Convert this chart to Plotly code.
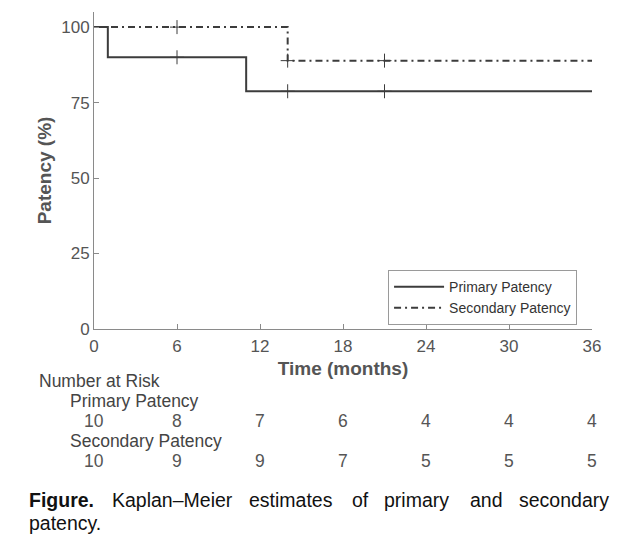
import plotly.graph_objects as go

# Kaplan-Meier step data
primary_t = [0, 1, 11, 36]
primary_s = [100, 90, 78.75, 78.75]
secondary_t = [0, 14, 36]
secondary_s = [100, 88.89, 88.89]

# censor marks
primary_cens_t = [6, 14, 21]
primary_cens_s = [90, 78.75, 78.75]
secondary_cens_t = [6, 14, 21]
secondary_cens_s = [100, 88.89, 88.89]

x_ticks = [0, 6, 12, 18, 24, 30, 36]
y_ticks = [0, 25, 50, 75, 100]
risk_primary = [10, 8, 7, 6, 4, 4, 4]
risk_secondary = [10, 9, 9, 7, 5, 5, 5]

LINE = "#3c3c3c"
AX = "#8a8a8a"
TXT = "#555555"
FONT = "Liberation Sans, Arial, sans-serif"

fig = go.Figure()
fig.add_trace(go.Scatter(x=primary_t, y=primary_s, mode="lines", line_shape="hv",
                         line=dict(color=LINE, width=2), name="Primary Patency"))
fig.add_trace(go.Scatter(x=secondary_t, y=secondary_s, mode="lines", line_shape="hv",
                         line=dict(color=LINE, width=2, dash="7px,4px,2px,4px"),
                         name="Secondary Patency"))
fig.add_trace(go.Scatter(x=primary_cens_t, y=primary_cens_s, mode="markers",
                         marker=dict(symbol="cross-thin", size=10, line=dict(color=LINE, width=1)),
                         showlegend=False))
fig.add_trace(go.Scatter(x=secondary_cens_t, y=secondary_cens_s, mode="markers",
                         marker=dict(symbol="cross-thin", size=10, line=dict(color=LINE, width=1)),
                         showlegend=False))

RISK_FS = 17.5
ann = []
ann.append(dict(text="Number at Risk", xref="paper", yref="paper", x=-0.1145, y=-0.164,
                xanchor="left", yanchor="middle", showarrow=False,
                font=dict(size=RISK_FS, color="#444444", family=FONT)))
ann.append(dict(text="Primary Patency", xref="paper", yref="paper", x=-0.052, y=-0.227,
                xanchor="left", yanchor="middle", showarrow=False,
                font=dict(size=RISK_FS, color="#444444", family=FONT)))
ann.append(dict(text="Secondary Patency", xref="paper", yref="paper", x=-0.052, y=-0.353,
                xanchor="left", yanchor="middle", showarrow=False,
                font=dict(size=RISK_FS, color="#444444", family=FONT)))
for t, n in zip(x_ticks, risk_primary):
    ann.append(dict(text=str(n), xref="x", yref="paper", x=t, y=-0.290, xanchor="center",
                    yanchor="middle", showarrow=False, font=dict(size=RISK_FS, color=TXT, family=FONT)))
for t, n in zip(x_ticks, risk_secondary):
    ann.append(dict(text=str(n), xref="x", yref="paper", x=t, y=-0.416, xanchor="center",
                    yanchor="middle", showarrow=False, font=dict(size=RISK_FS, color=TXT, family=FONT)))

# caption (justified first line)
CAP_FS = 19.5
words = ["<b>Figure.</b>", "Kaplan–Meier", "estimates", "of", "primary", "and", "secondary"]
word_px = [27, 110, 247, 350, 382, 468, 517]
for w, px in zip(words, word_px):
    ann.append(dict(text=w, xref="paper", yref="paper", x=(px - 94) / 498, y=-0.539,
                    xanchor="left", yanchor="middle", showarrow=False,
                    font=dict(size=CAP_FS, color="#111111", family=FONT)))
ann.append(dict(text="patency.", xref="paper", yref="paper", x=(27 - 94) / 498, y=-0.612,
                xanchor="left", yanchor="middle", showarrow=False,
                font=dict(size=CAP_FS, color="#111111", family=FONT)))

fig.update_layout(
    width=632, height=544,
    margin=dict(l=86, r=48, t=4, b=223),
    paper_bgcolor="white", plot_bgcolor="white",
    font=dict(family=FONT, color=TXT),
    showlegend=True,
    legend=dict(x=0.97, y=0.186, xanchor="right", yanchor="top",
                bgcolor="white", bordercolor="#9a9a9a", borderwidth=1,
                font=dict(size=14, color="#333333", family=FONT),
                tracegroupgap=0, itemwidth=50),
    annotations=ann,
    xaxis=dict(range=[0, 36], tickvals=x_ticks, ticks="inside", ticklen=5,
               tickcolor=AX, showline=True, linecolor=AX, linewidth=1,
               showgrid=False, zeroline=False, tickfont=dict(size=17, color=TXT),
               ticklabelstandoff=2,
               title=dict(text="<b>Time (months)</b>", font=dict(size=19, color=TXT), standoff=6)),
    yaxis=dict(range=[0, 105], tickvals=y_ticks, ticks="inside", ticklen=5,
               tickcolor=AX, showline=True, linecolor=AX, linewidth=1,
               showgrid=False, zeroline=False, tickfont=dict(size=17, color=TXT),
               title=dict(text="<b>Patency (%)</b>", font=dict(size=19, color=TXT), standoff=4)),
)

fig.write_html("out.html")
